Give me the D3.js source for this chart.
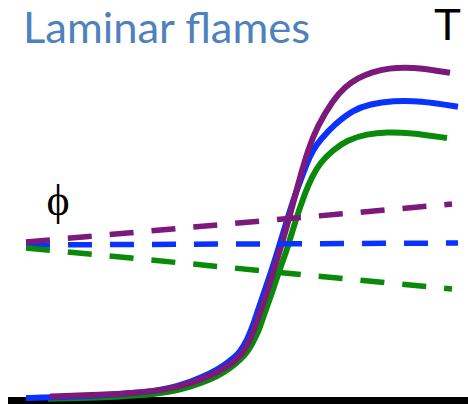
<!DOCTYPE html>
<html>
<head>
<meta charset="utf-8">
<script src="https://cdn.jsdelivr.net/npm/d3@7"></script>
<style>
  html, body { margin: 0; padding: 0; background: #fff; }
  svg { display: block; }
</style>
</head>
<body>
<svg id="chart" width="468" height="404"></svg>
<script>
// Position along the flame (mm) and normalised temperature profiles
const tPurpleX = [0.84, 1.84, 2.64, 3.24, 3.64, 4.04, 4.34, 4.54, 4.70, 4.84, 4.92, 5.04, 5.18, 5.36, 5.58, 5.84, 6.00, 6.18, 6.50, 6.74, 7.00, 7.28, 7.64, 7.94, 8.24, 8.84];
const tPurpleY = [0.009, 0.013, 0.018, 0.028, 0.041, 0.060, 0.080, 0.098, 0.118, 0.150, 0.175, 0.218, 0.268, 0.343, 0.433, 0.558, 0.625, 0.683, 0.750, 0.783, 0.805, 0.820, 0.830, 0.831, 0.830, 0.818];

const tBlueX = [0.36, 0.84, 1.84, 2.64, 3.24, 3.64, 4.04, 4.34, 4.54, 4.64, 4.78, 4.88, 5.00, 5.14, 5.34, 5.58, 5.74, 5.88, 5.98, 6.10, 6.24, 6.54, 6.90, 7.24, 7.70, 8.24, 9.00];
const tBlueY = [0.005, 0.006, 0.011, 0.018, 0.029, 0.045, 0.065, 0.088, 0.108, 0.120, 0.150, 0.180, 0.225, 0.275, 0.350, 0.450, 0.513, 0.558, 0.593, 0.625, 0.650, 0.690, 0.725, 0.740, 0.748, 0.748, 0.733];

const tGreenX = [0.80, 1.84, 2.64, 3.24, 3.64, 4.04, 4.34, 4.58, 4.74, 4.84, 4.94, 5.02, 5.14, 5.30, 5.44, 5.58, 5.74, 5.94, 6.08, 6.24, 6.50, 6.78, 7.18, 7.58, 8.04, 8.78];
const tGreenY = [0.003, 0.006, 0.011, 0.020, 0.033, 0.050, 0.070, 0.093, 0.113, 0.130, 0.155, 0.175, 0.220, 0.275, 0.330, 0.375, 0.445, 0.518, 0.558, 0.593, 0.625, 0.650, 0.665, 0.670, 0.668, 0.655];

// Equivalence ratio profiles (same vertical mapping)
const phiPurpleX = [0.36, 8.88];
const phiPurpleY = [0.395, 0.490];
const phiBlueX = [0.36, 9.00];
const phiBlueY = [0.3875, 0.3925];
const phiGreenX = [0.36, 8.88];
const phiGreenY = [0.380, 0.2775];

const titleText = "Laminar flames";
const tLabel = "T";
const phiLabel = "\u03D5";

const colors = { purple: "#7B1A7A", blue: "#0A32FF", green: "#0A8A0A" };

const svg = d3.select("#chart");
const x = d3.scaleLinear().domain([0, 9.2]).range([8, 468]);
const y = d3.scaleLinear().domain([0, 1]).range([400, 0]);

const zip = (xs, ys) => xs.map((v, i) => [v, ys[i]]);
const smooth = d3.line()
  .x(d => x(d[0]))
  .y(d => y(d[1]))
  .curve(d3.curveBasis);
const straight = d3.line()
  .x(d => x(d[0]))
  .y(d => y(d[1]));

// Baseline
svg.append("line")
  .attr("x1", x(0)).attr("x2", x(9.2))
  .attr("y1", y(0) + 0.5).attr("y2", y(0) + 0.5)
  .attr("stroke", "#000").attr("stroke-width", 7);

// Temperature curves
[[tGreenX, tGreenY, colors.green], [tBlueX, tBlueY, colors.blue], [tPurpleX, tPurpleY, colors.purple]]
  .forEach(([xs, ys, c]) => {
    svg.append("path")
      .attr("d", smooth(zip(xs, ys)))
      .attr("fill", "none")
      .attr("stroke", c)
      .attr("stroke-width", 6);
  });

// Equivalence ratio curves (dashed)
[[phiBlueX, phiBlueY, colors.blue], [phiGreenX, phiGreenY, colors.green], [phiPurpleX, phiPurpleY, colors.purple]]
  .forEach(([xs, ys, c]) => {
    svg.append("path")
      .attr("d", straight(zip(xs, ys)))
      .attr("fill", "none")
      .attr("stroke", c)
      .attr("stroke-width", 5.5)
      .attr("stroke-dasharray", "24,18");
  });

// Labels
svg.append("text")
  .attr("x", 23).attr("y", 43)
  .attr("font-family", "Lato, 'Open Sans', sans-serif")
  .attr("font-size", 42)
  .attr("textLength", 287)
  .attr("lengthAdjust", "spacingAndGlyphs")
  .attr("fill", "#4F81BD")
  .text(titleText);

svg.append("text")
  .attr("x", 447.5).attr("y", 40)
  .attr("text-anchor", "middle")
  .attr("font-family", "'Liberation Sans', Arial, sans-serif")
  .attr("font-size", 45)
  .attr("fill", "#000")
  .text(tLabel);

svg.append("text")
  .attr("x", 58).attr("y", 215)
  .attr("text-anchor", "middle")
  .attr("font-family", "'Liberation Serif', 'DejaVu Serif', serif")
  .attr("font-size", 44)
  .attr("fill", "#000")
  .text(phiLabel);
</script>
</body>
</html>
